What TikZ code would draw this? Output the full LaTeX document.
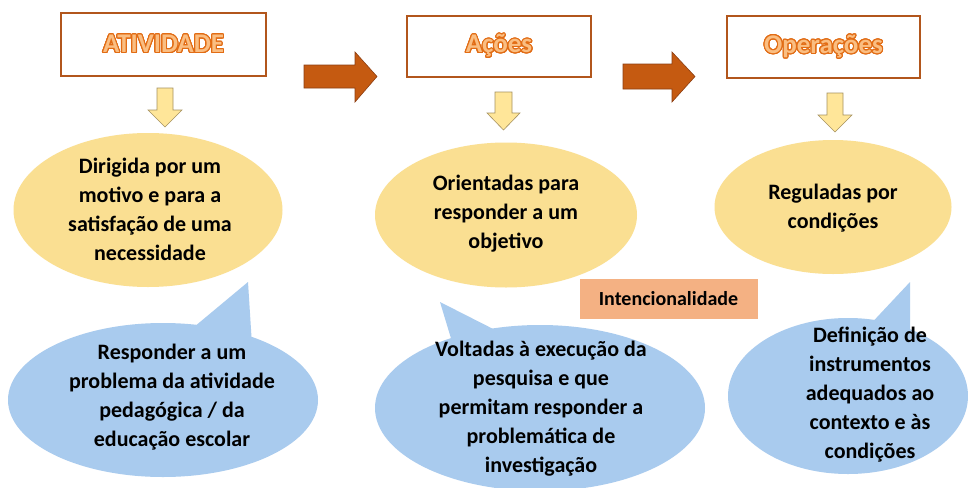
\documentclass[tikz,border=0pt]{standalone}
\usepackage{fontspec}
\setmainfont{Carlito}
\usepackage[copies]{contour}
\usetikzlibrary{shapes.geometric}
\definecolor{boxbrd}{RGB}{178,86,28}
\definecolor{bigarr}{RGB}{197,90,17}
\definecolor{bigarrd}{RGB}{140,62,18}
\definecolor{yarr}{RGB}{255,230,153}
\definecolor{yarrd}{RGB}{165,145,95}
\definecolor{yell}{RGB}{250,223,146}
\definecolor{blu}{RGB}{169,203,238}
\definecolor{intc}{RGB}{244,177,131}
\definecolor{ttlfill}{RGB}{250,190,130}
\definecolor{ttlline}{RGB}{226,108,20}
\contourlength{1.1pt}
\contournumber{24}
\newcommand{\ttl}[1]{\contour{ttlline}{\textcolor{ttlfill}{#1}}}
\begin{document}
\begin{tikzpicture}[x=1pt,y=-1pt,
  titlebox/.style={draw=boxbrd,line width=2.6pt,fill=white,inner sep=0pt,font=\fontsize{27}{30}\selectfont\bfseries},
  yellbox/.style={ellipse,fill=yell,inner sep=0pt},
  blubox/.style={ellipse,fill=blu,inner sep=0pt},
  txt/.style={align=center,font=\fontsize{22}{29}\selectfont\bfseries,text=black},
  bigarrow/.style={fill=bigarr,draw=bigarrd,line width=0.6pt},
  yarrow/.style={fill=yarr,draw=yarrd,line width=0.6pt},
  tail/.style={fill=blu}]
\useasboundingbox (0,0) rectangle (968,487);
\fill[white] (0,0) rectangle (968,487);
% title boxes
\node[titlebox,minimum width=205pt,minimum height=63pt] (t1) at (163.5,44.5) {\ttl{ATIVIDADE}};
\node[titlebox,minimum width=184pt,minimum height=61pt] (t2) at (499,46.5) {\ttl{Ações}};
\node[titlebox,minimum width=193pt,minimum height=62pt] (t3) at (823.5,47) {\ttl{Operações}};
% big arrows
\draw[bigarrow] (304,65) -- (355,65) -- (355,52) -- (377,76.5) -- (355,102) -- (355,88) -- (304,88) -- cycle;
\draw[bigarrow] (623,64) -- (672,64) -- (672,52) -- (695,76.5) -- (672,102) -- (672,89) -- (623,89) -- cycle;
% yellow down arrows
\draw[yarrow] (157,88) -- (173,88) -- (173,110) -- (182,110) -- (165,127) -- (148,110) -- (157,110) -- cycle;
\draw[yarrow] (495,92) -- (512,92) -- (512,113) -- (520,113) -- (503.5,130) -- (487,113) -- (495,113) -- cycle;
\draw[yarrow] (827,93) -- (843,93) -- (843,115) -- (852,115) -- (835,132) -- (818,115) -- (827,115) -- cycle;
% yellow ellipses
\node[yellbox,minimum width=269pt,minimum height=154pt] (y1) at (148,210) {};
\node[txt] (y1t) at (150,209) {Dirigida por um\\motivo e para a\\satisfação de uma\\necessidade};
\node[yellbox,minimum width=262pt,minimum height=145pt] (y2) at (506,215) {};
\node[txt] (y2t) at (506,214) {Orientadas para\\responder a um\\objetivo};
\node[yellbox,minimum width=237pt,minimum height=134pt] (y3) at (833,207) {};
\node[txt] (y3t) at (833,208) {Reguladas por\\condições};
% blue callouts
\fill[tail] (188,332) -- (248,282) -- (252,345) -- cycle;
\node[blubox,minimum width=310pt,minimum height=154pt] (b1) at (163,400) {};
\node[txt] (b1t) at (172,397) {Responder a um\\problema da atividade\\pedagógica / da\\educação escolar};
\fill[tail] (453,345) -- (440,302) -- (505,335) -- cycle;
\node[blubox,minimum width=330pt,minimum height=166pt] (b2) at (540,408) {};
\node[txt] (b2t) at (541,409) {Voltadas à execução da\\pesquisa e que\\permitam responder a\\problemática de\\investigação};
\fill[tail] (865,330) -- (910,282) -- (910,335) -- cycle;
\node[blubox,minimum width=240pt,minimum height=156pt] (b3) at (848,396) {};
\node[txt] (b3t) at (870,395) {Definição de\\instrumentos\\adequados ao\\contexto e às\\condições};
% intencionalidade
\node[fill=intc,minimum width=178pt,minimum height=40pt,inner sep=0pt,font=\fontsize{20}{24}\selectfont\bfseries] (int) at (668.5,299) {Intencionalidade};
\end{tikzpicture}
\end{document}
